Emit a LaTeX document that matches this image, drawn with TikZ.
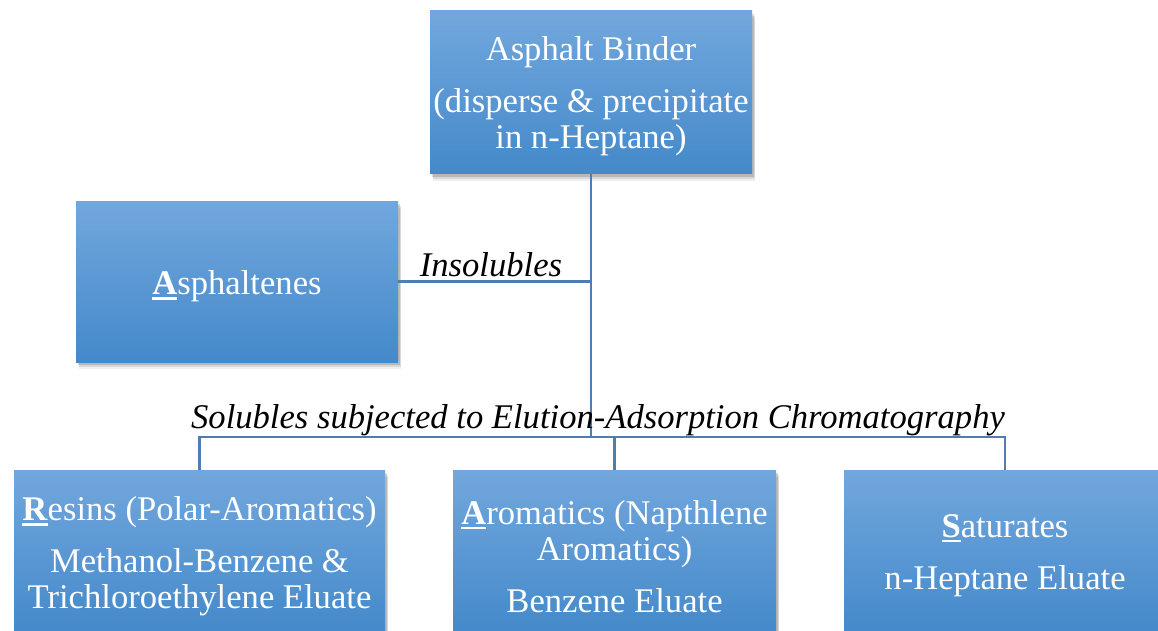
\documentclass[tikz,border=0pt]{standalone}
\usepackage{fontspec}
\setmainfont{Liberation Serif}
\usetikzlibrary{shadows}
\definecolor{boxtop}{RGB}{114,167,221}
\definecolor{boxbot}{RGB}{68,137,202}
\definecolor{linec}{RGB}{78,125,176}
\newcommand\ulfirst[1]{\setbox0\hbox{\textbf{#1}}\rlap{\rule[-5pt]{\wd0}{2.6pt}}\box0}
\tikzset{
  x=1pt, y=-1pt,
  catbox/.style={rectangle, inner sep=0pt, top color=boxtop, bottom color=boxbot, draw=none,
    drop shadow={shadow xshift=3pt, shadow yshift=-7pt, fill=black, opacity=0.06},
    drop shadow={shadow xshift=2.5pt, shadow yshift=-5pt, fill=black, opacity=0.1},
    drop shadow={shadow xshift=2pt, shadow yshift=-3pt, fill=black, opacity=0.15}},
  boxtext/.style={text=white, align=center, inner sep=0pt, font=\fontsize{34.6}{36}\selectfont},
  conn/.style={draw=linec, line width=2.2pt},
  lab/.style={font=\fontsize{34.6}{36}\selectfont\itshape, text=black, inner sep=0pt, anchor=base}
}
\begin{document}
\begin{tikzpicture}
\useasboundingbox (0,0) rectangle (1158,631);
\node[catbox, minimum width=322pt, minimum height=163pt] (top) at (591,92.5) {};
\node[catbox, minimum width=322pt, minimum height=161pt] (asph) at (237,281.5) {};
\node[catbox, minimum width=371pt, minimum height=163pt] (resins) at (199.5,551.5) {};
\node[catbox, minimum width=323pt, minimum height=163pt] (arom) at (614.5,551.5) {};
\node[catbox, minimum width=322pt, minimum height=163pt] (sat) at (1005,551.5) {};
\node[boxtext] (toptext) at ([yshift=-4pt]top.center)
  {Asphalt Binder\\[16pt](disperse \& precipitate\\in n-Heptane)};
\node[boxtext] (asphtext) at ([yshift=-5pt]asph.center) {\ulfirst{A}sphaltenes};
\node[boxtext] (resinstext) at ([yshift=-5pt]resins.center)
  {\ulfirst{R}esins (Polar-Aromatics)\\[16pt]Methanol-Benzene \&\\Trichloroethylene Eluate};
\node[boxtext] (aromtext) at ([yshift=-5pt]arom.center)
  {\ulfirst{A}romatics (Napthlene\\Aromatics)\\[16pt]Benzene Eluate};
\node[boxtext] (sattext) at ([yshift=-4pt]sat.center)
  {\ulfirst{S}aturates\\[16pt]n-Heptane Eluate};
\coordinate (bar) at (591,437);
\draw[conn] (top.south) -- (bar);
\draw[conn] (asph.east) -- (top.south |- asph.east);
\draw[conn] (resins.north) |- (sat.north |- bar) -- (sat.north);
\draw[conn] (arom.north) -- (arom.north |- bar);
\node[lab] (insol) at (491,276) {Insolubles};
\node[lab] (solub) at (598,428) {Solubles subjected to Elution-Adsorption Chromatography};
\end{tikzpicture}
\end{document}
